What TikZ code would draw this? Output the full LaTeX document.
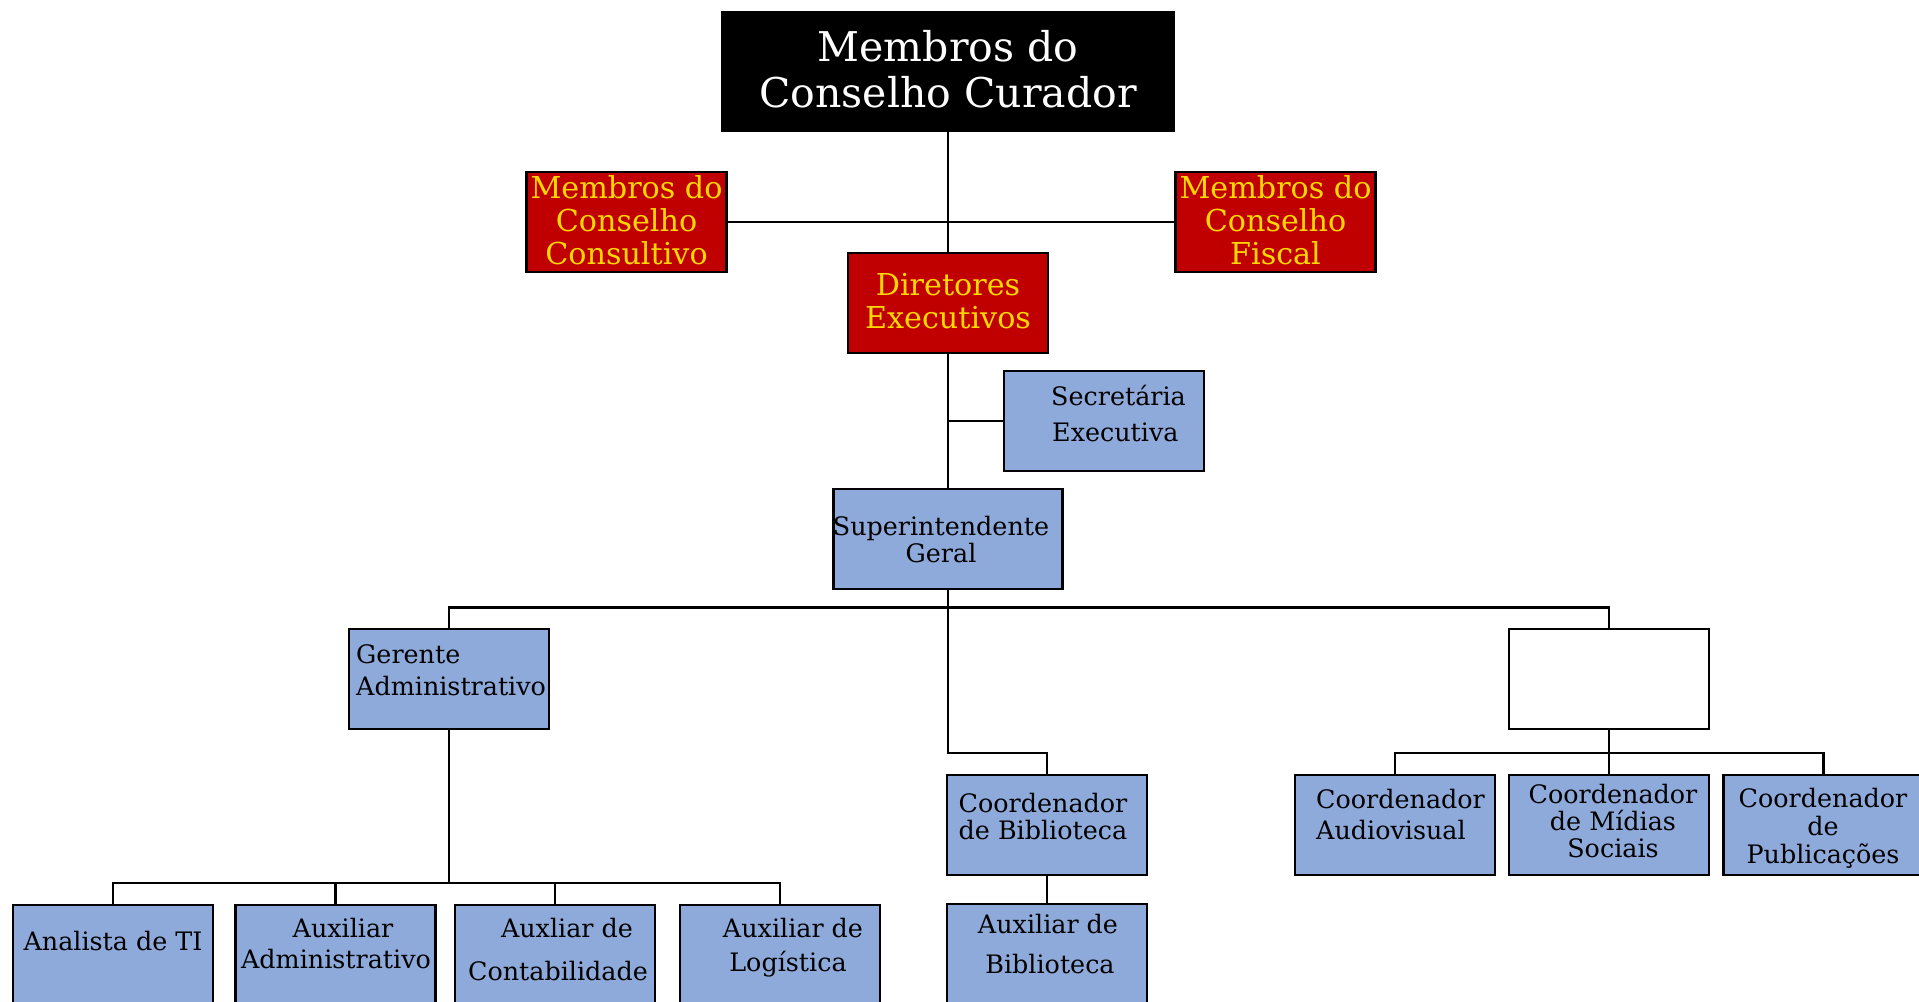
\documentclass[tikz,border=0pt]{standalone}
\usepackage{fontspec}
\setmainfont{DejaVu Serif}
\definecolor{redbox}{HTML}{C00000}
\definecolor{goldtext}{HTML}{FFD800}
\definecolor{bluebox}{HTML}{8EAADB}
\tikzset{
  box/.style={draw=black, line width=2.6pt, inner sep=0pt, minimum width=200pt, minimum height=100pt},
  topbox/.style={box, fill=black},
  rednode/.style={box, fill=redbox},
  bluenode/.style={box, fill=bluebox},
  plainbox/.style={box, fill=white},
  link/.style={line width=2.6pt, line cap=rect},
  ttop/.style={anchor=base, inner sep=0pt, text=white, font=\fontsize{41}{46}\selectfont},
  tred/.style={anchor=base, inner sep=0pt, text=goldtext, font=\fontsize{30.2}{33}\selectfont},
  tblue/.style={anchor=base, inner sep=0pt, text=black, font=\fontsize{25.4}{30}\selectfont},
  tbluel/.style={tblue, anchor=base west},
}
\begin{document}
\begin{tikzpicture}[x=1pt,y=-1pt]
\useasboundingbox (0,0) rectangle (1919,1001);
% boxes
\node[topbox, minimum width=451pt, minimum height=119pt] (top) at (948,71.5) {};
\node[rednode, minimum width=200pt] (cons) at (626.5,222) {};
\node[rednode, minimum width=200pt] (fisc) at (1275.5,222) {};
\node[rednode, minimum width=200pt] (dir) at (948,303) {};
\node[bluenode] (sec) at (1104,421) {};
\node[bluenode, minimum width=229pt] (sup) at (948,539) {};
\node[bluenode] (ger) at (449,679) {};
\node[plainbox] (empty) at (1609,679) {};
\node[bluenode] (cbib) at (1047,825) {};
\node[bluenode] (abib) at (1047,954) {};
\node[bluenode] (ana) at (113,955) {};
\node[bluenode] (aadm) at (335.5,955) {};
\node[bluenode] (acont) at (555,955) {};
\node[bluenode] (alog) at (780,955) {};
\node[bluenode] (caud) at (1395,825) {};
\node[bluenode] (cmid) at (1609,825) {};
\node[bluenode] (cpub) at (1823.5,825) {};
% connectors
\draw[link] (top.south) -- (dir.north);
\draw[link] (cons.east) -- (fisc.west);
\draw[link] (dir.south) -- (sup.north);
\draw[link] (sec.west) -- (dir.south |- sec.west);
\coordinate (bus) at (948,607.5);
\coordinate (mid) at (948,753);
\draw[link] (sup.south) -- (mid) -| (cbib.north);
\draw[link] (ger.north) |- (bus) -| (empty.north);
\draw[link] (cbib.south) -- (abib.north);
\coordinate (gbus) at (449,883);
\draw[link] (ger.south) -- (gbus);
\draw[link] (ana.north) |- (gbus) -| (alog.north);
\draw[link] (aadm.north) -- (aadm.north |- gbus);
\draw[link] (acont.north) -- (acont.north |- gbus);
\coordinate (ebus) at (1609,753);
\draw[link] (empty.south) -- (ebus);
\draw[link] (caud.north) |- (ebus) -| (cpub.north);
\draw[link] (cmid.north) -- (ebus);
% texts
\node[ttop] (t1a) at (948,61) {Membros do};
\node[ttop] (t1b) at (948,107) {Conselho Curador};
\node[tred] (t2a) at (626.5,198) {Membros do};
\node[tred] (t2b) at (626.5,231) {Conselho};
\node[tred] (t2c) at (626.5,264) {Consultivo};
\node[tred] (t3a) at (1275.5,198) {Membros do};
\node[tred] (t3b) at (1275.5,231) {Conselho};
\node[tred] (t3c) at (1275.5,264) {Fiscal};
\node[tred] (t4a) at (948,295) {Diretores};
\node[tred] (t4b) at (948,328) {Executivos};
\node[tbluel] (t5a) at (1051,405) {Secretária};
\node[tbluel] (t5b) at (1052,441) {Executiva};
\node[tblue] (t6a) at (941,535) {Superintendente};
\node[tblue] (t6b) at (941,562) {Geral};
\node[tbluel] (t7a) at (356,663) {Gerente};
\node[tbluel] (t7b) at (356,695) {Administrativo};
\node[tblue] (t8a) at (113,950) {Analista de TI};
\node[tblue] (t9a) at (343,937) {Auxiliar};
\node[tblue] (t9b) at (336,968) {Administrativo};
\node[tblue] (t10a) at (567,937) {Auxliar de};
\node[tblue] (t10b) at (558,980) {Contabilidade};
\node[tblue] (t11a) at (793,937) {Auxiliar de};
\node[tblue] (t11b) at (788,971) {Logística};
\node[tbluel] (t12a) at (958.5,812) {Coordenador};
\node[tbluel] (t12b) at (958.5,839) {de Biblioteca};
\node[tblue] (t13a) at (1048,933) {Auxiliar de};
\node[tblue] (t13b) at (1050,973) {Biblioteca};
\node[tbluel] (t14a) at (1316,808) {Coordenador};
\node[tbluel] (t14b) at (1316,839) {Audiovisual};
\node[tblue] (t15a) at (1613,803) {Coordenador};
\node[tblue] (t15b) at (1613,830) {de Mídias};
\node[tblue] (t15c) at (1613,857) {Sociais};
\node[tblue] (t16a) at (1823,807) {Coordenador};
\node[tblue] (t16b) at (1823,835) {de};
\node[tblue] (t16c) at (1823,863) {Publicações};
\end{tikzpicture}
\end{document}
